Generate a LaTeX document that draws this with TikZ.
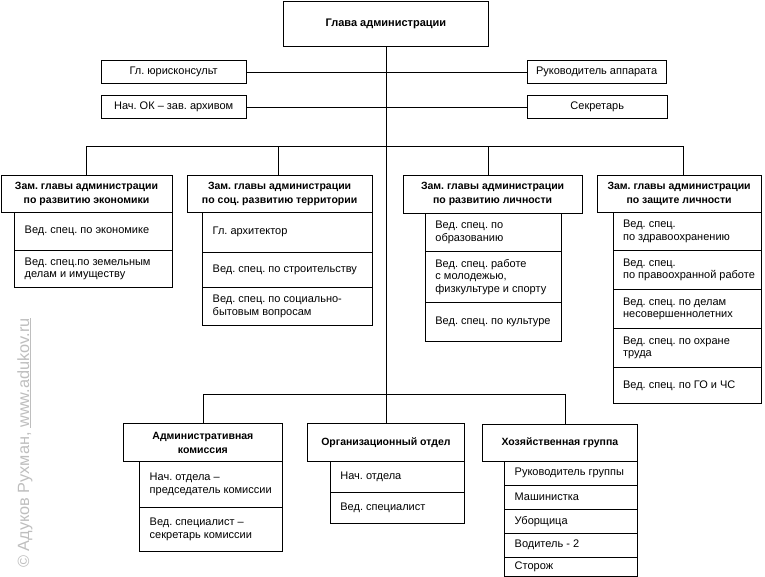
\documentclass[tikz,border=0pt]{standalone}
\usepackage{fontspec}
\setmainfont{Liberation Sans}
\frenchspacing
\definecolor{wmgray}{RGB}{190,190,190}
\tikzset{
  box/.style={draw=black, line width=0.8pt, inner ysep=1pt, font=\fontsize{11}{12.5}\selectfont},
  cbox/.style={box, inner xsep=2pt, align=center},
  hbox/.style={cbox, font=\fontsize{10.5}{14}\selectfont\bfseries},
  lbox/.style={box, inner xsep=10pt},
  link/.style={draw=black, line width=0.8pt},
}
\newcommand\cnode[7]{%
  \pgfmathsetmacro\obw{#5-#3}\pgfmathsetmacro\obh{#6-#4}%
  \node[#1, anchor=north west, minimum width=\obw pt, minimum height=\obh pt] (#2) at (#3,#4) {#7};}
\newcommand\lnode[7]{%
  \pgfmathsetmacro\obw{#5-#3}\pgfmathsetmacro\obh{#6-#4}\pgfmathsetmacro\obt{#5-#3-20}%
  \node[#1, anchor=north west, minimum width=\obw pt, minimum height=\obh pt] (#2) at (#3,#4)
    {\makebox[\obt pt][l]{\begin{tabular}{@{}l@{}}#7\end{tabular}}};}
\begin{document}
\begin{tikzpicture}[x=1pt,y=-1pt]
\useasboundingbox (0,0) rectangle (765,576);
% top
\cnode{hbox, font=\fontsize{11}{14}\selectfont\bfseries}{glava}{283}{0.5}{488}{46}{Глава администрации}
\cnode{cbox}{yur}{101}{60}{245.5}{83}{Гл. юрисконсульт}
\cnode{cbox}{nach}{101}{95}{245.5}{118.3}{Нач. ОК – зав. архивом}
\cnode{cbox}{ruk}{526.7}{60}{665.7}{83}{Руководитель аппарата}
\cnode{cbox}{sekr}{526.7}{95}{667}{118.3}{Секретарь}
% deputies
\cnode{hbox}{z1}{0.5}{175}{171.7}{211.7}{Зам. главы администрации\\по развитию экономики}
\lnode{lbox}{z1a}{14.3}{211.7}{171.7}{250}{Вед. спец. по экономике}
\lnode{lbox}{z1b}{14.3}{250}{171.7}{287.3}{Вед. спец.по земельным\\делам и имуществу}
\cnode{hbox}{z2}{186.7}{175}{371.7}{211.7}{Зам. главы администрации\\по соц. развитию территории}
\lnode{lbox}{z2a}{202.3}{211.7}{371.7}{251.7}{Гл. архитектор}
\lnode{lbox}{z2b}{202.3}{251.7}{371.7}{287.3}{Вед. спец. по строительству}
\lnode{lbox}{z2c}{202.3}{287.3}{371.7}{325}{Вед. спец. по социально-\\бытовым вопросам}
\cnode{hbox}{z3}{402.7}{175}{581.7}{212.7}{Зам. главы администрации\\по развитию личности}
\lnode{lbox}{z3a}{425}{212.7}{560.7}{251}{Вед. спец. по\\образованию}
\lnode{lbox}{z3b}{425}{251}{560.7}{302.3}{Вед. спец. работе\\с молодежью,\\физкультуре и спорту}
\lnode{lbox}{z3c}{425}{302.3}{560.7}{341}{Вед. спец. по культуре}
\cnode{hbox}{z4}{596.7}{175}{760.7}{211.7}{Зам. главы администрации\\по защите личности}
\lnode{lbox}{z4a}{612.7}{211.7}{760.7}{250}{Вед. спец.\\по здравоохранению}
\lnode{lbox}{z4b}{612.7}{250}{760.7}{289}{Вед. спец.\\по правоохранной работе}
\lnode{lbox}{z4c}{612.7}{289}{760.7}{327.7}{Вед. спец. по делам\\несовершеннолетних}
\lnode{lbox}{z4d}{612.7}{327.7}{760.7}{367.3}{Вед. спец. по охране\\труда}
\lnode{lbox}{z4e}{612.7}{367.3}{760.7}{403.3}{Вед. спец. по ГО и ЧС}
% bottom
\cnode{hbox}{k1}{123.3}{423.3}{281.7}{461}{Административная\\комиссия}
\lnode{lbox}{k1a}{139.3}{461}{281.7}{506.7}{Нач. отдела –\\председатель комиссии}
\lnode{lbox}{k1b}{139.3}{506.7}{281.7}{551}{Вед. специалист –\\секретарь комиссии}
\cnode{hbox}{k2}{306.7}{423.3}{464.3}{461}{Организационный отдел}
\lnode{lbox}{k2a}{330}{461}{464.3}{491.7}{Нач. отдела}
\lnode{lbox}{k2b}{330}{491.7}{464.3}{523.3}{Вед. специалист}
\cnode{hbox}{k3}{481.7}{424}{637.3}{460.7}{Хозяйственная группа}
\lnode{lbox}{k3a}{504.3}{460.7}{637.3}{485}{Руководитель группы}
\lnode{lbox}{k3b}{504.3}{485}{637.3}{509.3}{Машинистка}
\lnode{lbox}{k3c}{504.3}{509.3}{637.3}{533.3}{Уборщица}
\lnode{lbox}{k3d}{504.3}{533.3}{637.3}{556.7}{Водитель - 2}
\lnode{lbox}{k3e}{504.3}{556.7}{637.3}{575.5}{Сторож}
% connectors
\coordinate (bA) at (86,146);
\coordinate (bB) at (278,146);
\coordinate (bC) at (488,146);
\coordinate (bD) at (683,146);
\coordinate (cA) at (203.3,394);
\coordinate (cC) at (565,394);
\draw[link] (glava.south) -- (glava.south |- k2.north);
\draw[link] (yur.east) -- (yur.east -| glava.south);
\draw[link] (nach.east) -- (nach.east -| glava.south);
\draw[link] (ruk.west) -- (ruk.west -| glava.south);
\draw[link] (sekr.west) -- (sekr.west -| glava.south);
\draw[link] (bA |- z1.north) -- (bA) -- (bD) -- (bD |- z4.north);
\draw[link] (bB) -- (bB |- z2.north);
\draw[link] (bC) -- (bC |- z3.north);
\draw[link] (cA |- k1.north) -- (cA) -- (cC) -- (cC |- k3.north);
% watermark
\node[rotate=90, anchor=base west, inner sep=0pt, text=wmgray, font=\fontsize{16.3}{16.3}\selectfont] (wm) at (29,568) {© Адуков Рухман, \underline{www.adukov.ru}};
\end{tikzpicture}
\end{document}
